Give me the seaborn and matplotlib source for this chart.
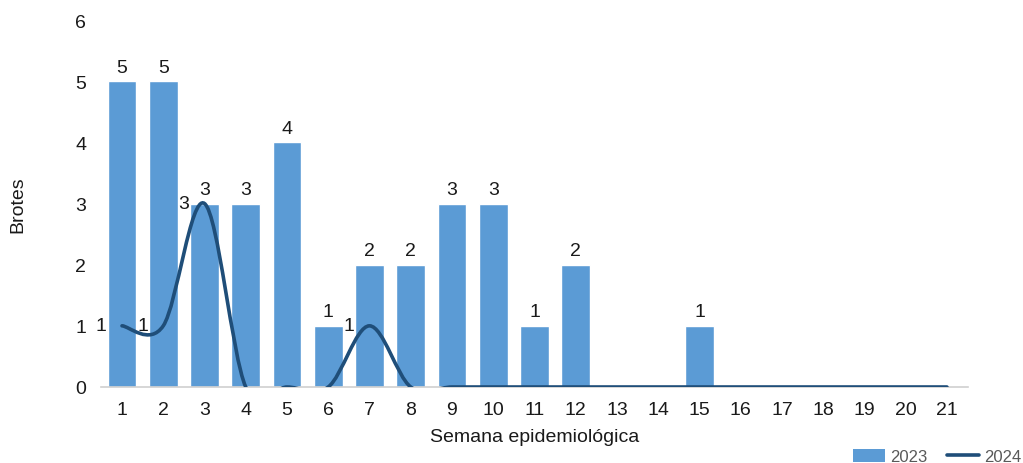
import matplotlib
matplotlib.use("Agg")
import matplotlib.pyplot as plt
from matplotlib.path import Path
from matplotlib.patches import PathPatch, Patch
from matplotlib.lines import Line2D
import numpy as np
import pandas as pd
import seaborn as sns

BAR_COLOR = "#5B9BD5"
LINE_COLOR = "#1F4E79"
TXT = "#1A1A1A"
FS = 14

weeks = [str(w) for w in range(1, 22)]
brotes_2023 = [5, 5, 3, 3, 4, 1, 2, 2, 3, 3, 1, 2, 0, 0, 1, 0, 0, 0, 0, 0, 0]
brotes_2024 = [1, 1, 3, 0, 0, 0, 1, 0, 0, 0, 0, 0, 0, 0, 0, 0, 0, 0, 0, 0, 0]


def smooth_path(xs, ys):
    # Excel-style smoothed line: cubic Bezier with catmull-rom control points
    xs = np.asarray(xs, float)
    ys = np.asarray(ys, float)
    n = len(xs)
    verts = [(xs[0], ys[0])]
    codes = [Path.MOVETO]
    for i in range(n - 1):
        p0 = i - 1 if i > 0 else i
        p3 = i + 2 if i + 2 < n else i + 1
        c1 = (xs[i] + (xs[i + 1] - xs[p0]) / 6, ys[i] + (ys[i + 1] - ys[p0]) / 6)
        c2 = (xs[i + 1] - (xs[p3] - xs[i]) / 6, ys[i + 1] - (ys[p3] - ys[i]) / 6)
        verts += [c1, c2, (xs[i + 1], ys[i + 1])]
        codes += [Path.CURVE4] * 3
    return Path(verts, codes)


sns.set_theme(style="white")
plt.rcParams["font.family"] = ["Liberation Sans", "DejaVu Sans"]

df = pd.DataFrame({"Semana": weeks, "2023": brotes_2023, "2024": brotes_2024})

fig = plt.figure(figsize=(10.23, 4.64), dpi=100)
ax = fig.add_axes([0.0991, 0.1638, 0.8467, 0.7909])

sns.barplot(data=df, x="Semana", y="2023", order=weeks, color=BAR_COLOR,
            width=0.7, saturation=1, ax=ax)

labels = [str(v) if v > 0 else "" for v in brotes_2023]
ax.bar_label(ax.containers[0], labels=labels, padding=4, fontsize=FS, color=TXT)

xpos = np.arange(len(weeks))
patch = PathPatch(smooth_path(xpos, brotes_2024), facecolor="none",
                  edgecolor=LINE_COLOR, lw=2.6, capstyle="round", zorder=3)
ax.add_patch(patch)
for x, v in zip(xpos, brotes_2024):
    if v > 0:
        ax.annotate(str(v), (x, v), xytext=(-11, 0), textcoords="offset points",
                    ha="right", va="center", fontsize=FS, color=TXT)

ax.set_xlim(-0.5, len(weeks) - 0.5)
ax.set_ylim(0, 6)
ax.set_yticks(range(7))
ax.tick_params(axis="y", labelsize=FS, colors=TXT, length=0, pad=11)
ax.tick_params(axis="x", labelsize=FS, colors=TXT, length=0, pad=10)
ax.set_xlabel("Semana epidemiológica", fontsize=FS, color=TXT)
ax.set_ylabel("Brotes", fontsize=FS, color=TXT)
ax.yaxis.set_label_coords(-0.087, 0.5)
ax.xaxis.set_label_coords(0.5, -0.112)

for side in ["top", "right", "left"]:
    ax.spines[side].set_visible(False)
ax.spines["bottom"].set_color("#D0D0D0")
ax.spines["bottom"].set_linewidth(1.2)

handles = [Patch(facecolor=BAR_COLOR, edgecolor="none"),
           Line2D([0], [0], color=LINE_COLOR, lw=2.6)]
leg = fig.legend(handles, ["2023", "2024"], loc="lower right", ncol=2,
                 bbox_to_anchor=(1.013, -0.035), frameon=False, fontsize=12,
                 handlelength=1.9, handleheight=0.75, handletextpad=0.3,
                 columnspacing=1.2, labelcolor="#595959")

fig.savefig("out.png", dpi=100)
